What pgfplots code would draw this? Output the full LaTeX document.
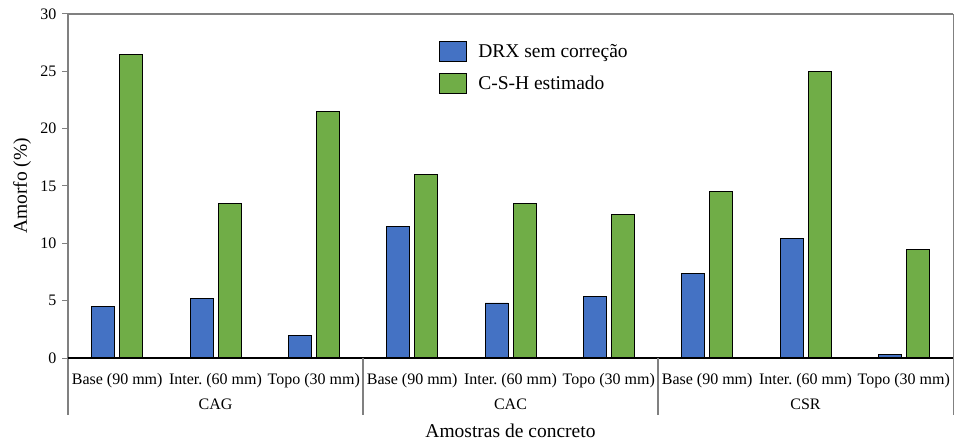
\documentclass[border=0pt]{standalone}
\usepackage{pgfplots}
\pgfplotsset{compat=1.18}
\usepackage{fontspec}
\setmainfont{Liberation Serif}
\definecolor{barblue}{HTML}{4472C4}
\definecolor{bargreen}{HTML}{70AD47}
\definecolor{axgray}{HTML}{808080}
\begin{document}
\begin{tikzpicture}
\begin{axis}[
  scale only axis, width=885pt, height=344pt,
  ybar, bar width=23pt,
  xmin=-0.5, xmax=8.5, ymin=0, ymax=30,
  clip=false,
  axis line style={draw=none},
  xtick={0,1,2,3,4,5,6,7,8},
  xticklabels={Base (90 mm), Inter.\ (60 mm), Topo (30 mm), Base (90 mm), Inter.\ (60 mm), Topo (30 mm), Base (90 mm), Inter.\ (60 mm), Topo (30 mm)},
  major x tick style={draw=none},
  xticklabel style={font=\fontsize{16}{18}\selectfont, yshift=-6pt},
  ytick={0,5,...,30},
  ytick pos=left, tick align=outside, major tick length=6pt,
  major y tick style={draw=axgray, line width=1pt},
  yticklabel style={font=\fontsize{16}{18}\selectfont, xshift=-2pt},
  /pgf/number format/assume math mode=true,
  every axis y label/.style={at={(axis description cs:-0.052,0.5)}, rotate=90, anchor=center, font=\fontsize{19.5}{22}\selectfont},
  every axis x label/.style={at={(axis description cs:0.5,-0.212)}, anchor=center, font=\fontsize{19.5}{22}\selectfont},
  ylabel={Amorfo (\%)},
  xlabel={Amostras de concreto},
  legend style={at={(0.416,0.928)}, anchor=north west, draw=none, fill=none,
    font=\fontsize{19.5}{22}\selectfont, row sep=11pt,
    /tikz/every odd column/.append style={column sep=9pt}},
  legend cell align=left,
  legend image code/.code={\draw[#1, line width=0.9pt] (0pt,-10pt) rectangle (27pt,10pt);},
]
\addplot[fill=barblue, draw=black, line width=0.8pt, bar shift=-14pt] coordinates {
(0,4.5) (1,5.2) (2,2.0) (3,11.5) (4,4.8) (5,5.4) (6,7.4) (7,10.4) (8,0.3)};
\addplot[fill=bargreen, draw=black, line width=0.8pt, bar shift=14pt] coordinates {
(0,26.5) (1,13.5) (2,21.5) (3,16.0) (4,13.5) (5,12.5) (6,14.5) (7,25.0) (8,9.5)};
\legend{DRX sem correção,C-S-H estimado}
% axis frame
\draw[axgray, line width=2.5pt] (rel axis cs:0,1) -- (rel axis cs:1,1);
\draw[axgray, line width=2pt] (rel axis cs:0,1) -- ([yshift=-57pt]rel axis cs:0,0);
\draw[axgray, line width=1pt] (rel axis cs:1,1) -- ([yshift=-57pt]rel axis cs:1,0);
\draw[black, line width=1.2pt] (rel axis cs:0,0) -- (rel axis cs:1,0);
\draw[axgray, line width=1.5pt] (axis cs:2.5,0) -- ([yshift=-57pt]axis cs:2.5,0);
\draw[axgray, line width=1.5pt] (axis cs:5.5,0) -- ([yshift=-57pt]axis cs:5.5,0);
\node[font=\fontsize{16}{18}\selectfont] at ([yshift=-46pt]axis cs:1,0) {CAG};
\node[font=\fontsize{16}{18}\selectfont] at ([yshift=-46pt]axis cs:4,0) {CAC};
\node[font=\fontsize{16}{18}\selectfont] at ([yshift=-46pt]axis cs:7,0) {CSR};
\coordinate (bl) at (rel axis cs:0,0);
\coordinate (tr) at (rel axis cs:1,1);
\end{axis}
\path ([xshift=-68pt,yshift=-85pt]bl) rectangle ([xshift=2pt,yshift=14pt]tr);
\end{tikzpicture}
\end{document}
